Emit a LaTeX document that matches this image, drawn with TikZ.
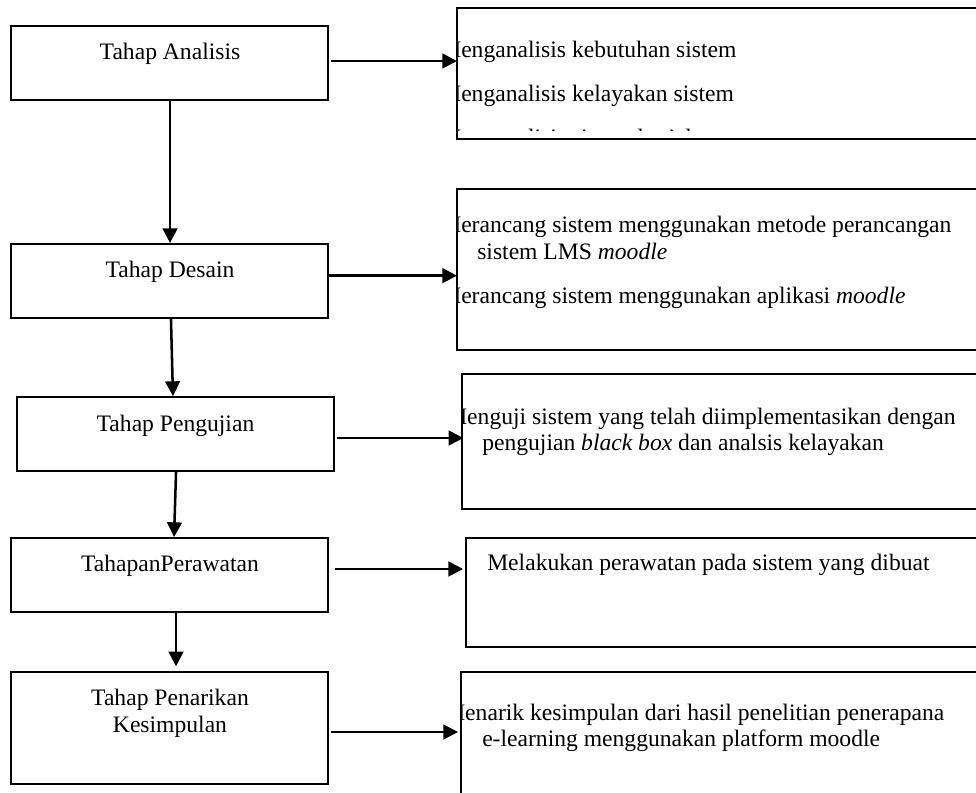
\documentclass[tikz,border=0pt]{standalone}
\usepackage{fontspec}
\setmainfont{Liberation Serif}
\usetikzlibrary{arrows.meta}
\begin{document}
\begin{tikzpicture}[x=0.75pt,y=-0.75pt,
  every node/.style={font=\fontsize{17.7pt}{20.7pt}\selectfont},
  lbox/.style={draw,line width=1.5pt,minimum width=237.75pt,minimum height=55.5pt,inner sep=0pt},
  boxline/.style={line width=1.5pt},
  ltext/.style={anchor=base,inner sep=0pt},
  rtext/.style={anchor=base west,inner sep=0pt},
  arr/.style={line width=1.9pt,-{Triangle[length=11pt,width=11pt]}}]
\clip (0,0) rectangle (976,793);
\fill[white] (0,0) rectangle (976,793);
% left boxes
\node[lbox] (b1) at (169.5,63) {};
\node[lbox] (b2) at (169.5,281) {};
\node[lbox] (b3) at (175.5,434) {};
\node[lbox] (b4) at (169.5,575) {};
\node[lbox,minimum height=84pt] (b5) at (169.5,728) {};
\node[ltext] (t1) at (170,59.5) {Tahap Analisis};
\node[ltext] (t2) at (170,277.5) {Tahap Desain};
\node[ltext] (t3) at (175.5,431.5) {Tahap Pengujian};
\node[ltext] (t4) at (170,571.5) {TahapanPerawatan};
\node[ltext] (t5a) at (170,705) {Tahap Penarikan};
\node[ltext] (t5b) at (170,732.5) {Kesimpulan};
% right boxes corners
\coordinate (r1nw) at (457,8);   \coordinate (r1se) at (1000,139);
\coordinate (r2nw) at (457,189); \coordinate (r2se) at (1000,350);
\coordinate (r3nw) at (462,374); \coordinate (r3se) at (1000,509);
\coordinate (r4nw) at (466,538); \coordinate (r4se) at (1000,647);
\coordinate (r5nw) at (461,672); \coordinate (r5se) at (1000,820);
% texts clipped by boxes
\begin{scope}
\clip (r1nw) rectangle (1000,130);
\node[rtext] (r1a) at (440,57) {Menganalisis kebutuhan sistem};
\node[rtext] (r1b) at (440,101.5) {Menganalisis kelayakan sistem};
\node[rtext] (r1c) at (440,145.5) {Menganalisis sistem berjalan};
\end{scope}
\begin{scope}
\clip (r2nw) rectangle (r2se);
\node[rtext] (r2a) at (440,232) {Merancang sistem menggunakan metode perancangan};
\node[rtext] (r2b) at (477,259) {sistem LMS \textit{moodle}};
\node[rtext] (r2c) at (440,303) {Merancang sistem menggunakan aplikasi \textit{moodle}};
\end{scope}
\begin{scope}
\clip (r3nw) rectangle (r3se);
\node[rtext] (r3a) at (446,424) {Menguji sistem yang telah diimplementasikan dengan};
\node[rtext] (r3b) at (482,450) {pengujian \textit{black box} dan analsis kelayakan};
\end{scope}
\node[rtext] (r4a) at (487,570) {Melakukan perawatan pada sistem yang dibuat};
\begin{scope}
\clip (r5nw) rectangle (r5se);
\node[rtext] (r5a) at (444,720) {Menarik kesimpulan dari hasil penelitian penerapana};
\node[rtext] (r5b) at (482,746) {e-learning menggunakan platform moodle};
\end{scope}
\draw[boxline] (r1nw) rectangle (r1se);
\draw[boxline] (r2nw) rectangle (r2se);
\draw[boxline] (r3nw) rectangle (r3se);
\draw[boxline] (r4nw) rectangle (r4se);
\draw[boxline] (r5nw) rectangle (r5se);
% vertical arrows
\draw[arr] ([xshift=0.4pt]b1.south) -- ([xshift=0.4pt]b2.north);
\draw[arr] ([xshift=1.1pt]b2.south) -- ([xshift=-1.9pt]b3.north);
\draw[arr] ([xshift=0.4pt]b3.south) -- ([xshift=3.4pt]b4.north);
\draw[arr,shorten >=3.5pt] ([xshift=4.9pt]b4.south) -- ([xshift=4.9pt]b5.north);
% horizontal arrows
\draw[arr] ([xshift=1.5pt,yshift=1.5pt]b1.east) -- ([yshift=1.5pt]b1.east -| r1nw);
\draw[arr] ([yshift=4pt]b2.east) -- ([yshift=4pt]b2.east -| r2nw);
\draw[arr] ([xshift=1.5pt,yshift=-3pt]b3.east) -- ([xshift=1pt,yshift=-3pt]b3.east -| r3nw);
\draw[arr,shorten >=2.2pt] ([xshift=4.5pt,yshift=4.5pt]b4.east) -- ([yshift=4.5pt]b4.east -| r4nw);
\draw[arr,shorten >=2.2pt] ([xshift=1.5pt,yshift=-3pt]b5.east) -- ([yshift=-3pt]b5.east -| r5nw);
\end{tikzpicture}
\end{document}
